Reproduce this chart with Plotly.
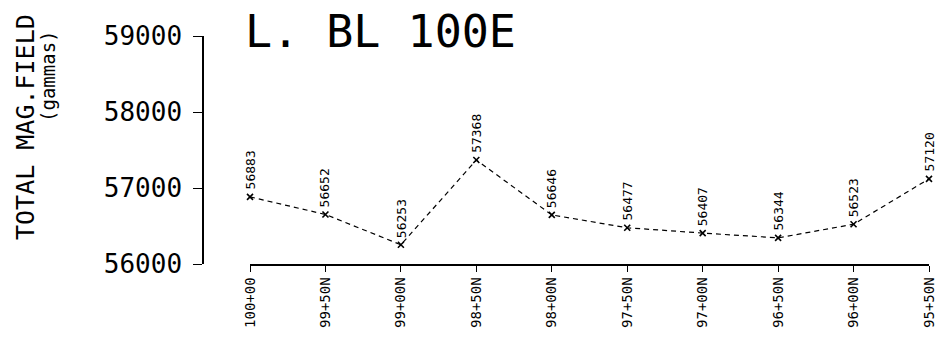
import plotly.graph_objects as go

stations = ["100+00", "99+50N", "99+00N", "98+50N", "98+00N",
            "97+50N", "97+00N", "96+50N", "96+00N", "95+50N"]
field = [56883, 56652, 56253, 57368, 56646, 56477, 56407, 56344, 56523, 57120]
y_ticks = [56000, 57000, 58000, 59000]
y_tick_text = ["56000", "57000", "58000", "59000"]
y_inner_ticks = [57000, 58000]

W, H = 947, 349
# plot area in page pixels: x 203..929, y 36..264
ML = 200
MR = W - 929
MT = 36
MB = H - 264
PW = W - ML - MR
PH = H - MT - MB
FONT = "DejaVu Sans Mono"


def px_x(px):
    return (px - ML) / PW


def px_y(py):
    return 1 - (py - MT) / PH


fig = go.Figure()
fig.add_trace(go.Scatter(
    x=list(range(len(stations))), y=field,
    mode="lines+markers",
    line=dict(color="black", width=1.2, dash="5px,4px"),
    marker=dict(symbol="x-thin", size=6, line=dict(color="black", width=1.6)),
    cliponaxis=False, showlegend=False, hoverinfo="skip",
))

for i, v in enumerate(field):
    fig.add_annotation(
        x=i, y=v, xref="x", yref="y", text=str(v), showarrow=False,
        textangle=-90, xanchor="center", yanchor="bottom", yshift=5,
        font=dict(family=FONT, size=13, color="black"),
    )

fig.add_annotation(
    x=px_x(243), y=px_y(32), xref="paper", yref="paper",
    text="L. BL 100E", showarrow=False, xanchor="left", yanchor="middle",
    font=dict(family=FONT, size=45, color="black"),
)
fig.add_annotation(
    x=px_x(25), y=px_y(127), xref="paper", yref="paper",
    text="TOTAL MAG.FIELD", showarrow=False, textangle=-90,
    xanchor="center", yanchor="middle",
    font=dict(family=FONT, size=25, color="black"),
)
fig.add_annotation(
    x=px_x(48), y=px_y(76), xref="paper", yref="paper",
    text="(gammas)", showarrow=False, textangle=-90,
    xanchor="center", yanchor="middle",
    font=dict(family=FONT, size=19, color="black"),
)

fig.update_layout(
    width=W, height=H,
    margin=dict(l=ML, r=MR, t=MT, b=MB, autoexpand=False),
    paper_bgcolor="white", plot_bgcolor="white",
    xaxis=dict(
        domain=[px_x(250), 1], range=[0, len(stations) - 1],
        tickmode="array", tickvals=list(range(len(stations))), ticktext=stations,
        tickangle=-90, ticks="outside", ticklen=6, tickcolor="black", tickwidth=1.2,
        showline=True, linecolor="black", linewidth=1.5,
        showgrid=False, zeroline=False, automargin=False,
        tickfont=dict(family=FONT, size=14, color="black"),
    ),
    yaxis=dict(
        anchor="free", position=px_x(203),
        range=[56000, 59000], tickmode="array", tickvals=y_ticks, ticktext=y_tick_text,
        ticks="outside", ticklen=9, tickcolor="black", tickwidth=1.2,
        showline=True, linecolor="black", linewidth=1.5,
        showgrid=False, zeroline=False, automargin=False,
        ticklabelstandoff=6,
        tickfont=dict(family=FONT, size=26, color="black"),
    ),
    yaxis2=dict(
        anchor="free", position=px_x(203), overlaying="y",
        range=[56000, 59000], tickmode="array", tickvals=y_inner_ticks,
        ticks="inside", ticklen=5, tickcolor="black", tickwidth=1.2,
        showticklabels=False, showline=False, showgrid=False, zeroline=False,
        automargin=False,
    ),
)

fig.write_html(
    "out.html",
    config={"displayModeBar": False},
    post_script="document.body.style.margin='0px';document.body.style.padding='0px';",
)
